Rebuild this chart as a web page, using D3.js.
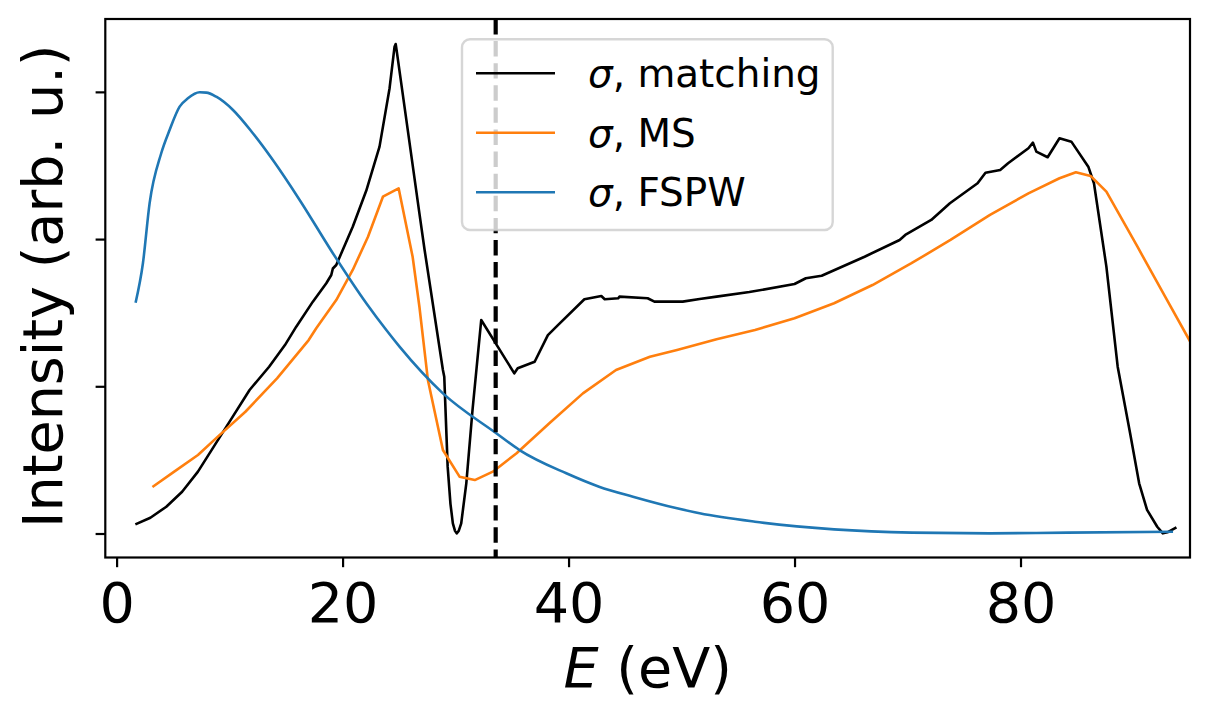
<!DOCTYPE html>
<html>
<head>
<meta charset="utf-8">
<script src="https://cdn.jsdelivr.net/npm/d3@7"></script>
<style>
  body { margin: 0; background: #fff; }
  svg { display: block; font-family: "DejaVu Sans", sans-serif; }
</style>
</head>
<body>
<div id="chart"></div>
<script>
// values (y in arbitrary units, one unit per y tick)
const matchingE = [1.66, 2.99, 4.4, 5.8, 7.2, 8.6, 10.0, 11.77, 13.5, 14.9, 15.9, 17.37, 18.56, 19.0, 19.14, 19.44,
  20.9, 22.1, 23.27, 24.16, 24.6, 24.7, 24.8, 26.8, 27.26, 28.88, 29.0, 29.3, 29.55, 29.76, 29.95, 30.1, 30.28, 30.5, 30.95, 31.5, 32.27,
  35.2, 35.5, 37.0, 38.17, 39.06, 41.4, 42.9, 43.2, 44.4, 44.5, 47.0, 47.6, 50.1, 51.6, 53.1, 56.0, 60.0, 61.0, 62.4,
  66.2, 69.3, 69.8, 72.1, 73.75, 76.2, 76.9, 78.2, 78.9, 80.7, 81.1, 81.4, 82.4, 83.45, 84.5, 86.0, 86.5, 87.6, 88.6,
  89.7, 90.5, 91.2, 92.1, 92.6, 93.0, 93.8]
const matchingI = [0.062, 0.107, 0.182, 0.284, 0.42, 0.59, 0.76, 0.975, 1.133, 1.28, 1.405, 1.575, 1.70, 1.756, 1.80, 1.824,
  2.084, 2.33, 2.628, 3.025, 3.307, 3.325, 3.273, 2.175, 1.926, 1.111, 1.065, 0.454, 0.2, 0.069, 0.018, 0.001, 0.018, 0.069, 0.341, 0.839, 1.45,
  1.088, 1.122, 1.167, 1.348, 1.416, 1.591, 1.613, 1.591, 1.598, 1.609, 1.598, 1.575, 1.575, 1.593, 1.609, 1.64, 1.695, 1.734, 1.751,
  1.88, 1.994, 2.028, 2.13, 2.243, 2.379, 2.451, 2.469, 2.515, 2.617, 2.655, 2.594, 2.556, 2.685, 2.662, 2.492, 2.379, 1.813, 1.133,
  0.681, 0.341, 0.16, 0.046, 0.001, 0.008, 0.042]

const msE = [3.17, 5.1, 7.2, 8.96, 11.4, 14.2, 17.0, 17.67, 19.44, 20.9, 22.25, 23.57, 24.96, 26.2, 26.8, 27.55, 28.88,
  30.35, 31.7, 33.3, 35.4, 38.3, 41.27, 44.2, 47.2, 49.6, 53.1, 56.5, 60.0, 63.5, 66.9, 70.35, 73.8, 77.3, 80.7, 83.45,
  84.9, 86.2, 87.6, 90.35, 92.8, 95.1]
const msI = [0.316, 0.42, 0.533, 0.658, 0.827, 1.054, 1.314, 1.394, 1.586, 1.79, 2.016, 2.288, 2.345, 1.88, 1.54, 1.043, 0.567,
  0.386, 0.363, 0.42, 0.545, 0.749, 0.952, 1.111, 1.201, 1.247, 1.319, 1.382, 1.462, 1.564, 1.688, 1.836, 1.994, 2.164, 2.311, 2.413,
  2.454, 2.429, 2.322, 1.948, 1.609, 1.292]

const fspwE = [1.68, 2.33, 2.92, 3.95, 4.69, 5.58, 6.31, 7.35, 7.94, 8.82, 10.3, 12.06, 13.83, 16.2, 19.14, 22.1, 23.87,
  25.04, 28.88, 33.6, 35.66, 39.8, 42.7, 45.7, 49.6, 51.6, 56.5, 63.5, 70.4, 77.3, 84.2, 93.5]
const fspwI = [1.568, 1.836, 2.243, 2.583, 2.741, 2.90, 2.956, 2.997, 2.995, 2.967, 2.877, 2.719, 2.537, 2.266, 1.904, 1.564, 1.382,
  1.269, 0.952, 0.681, 0.567, 0.409, 0.318, 0.25, 0.171, 0.137, 0.080, 0.028, 0.006, 0.001, 0.006, 0.012]

const thresholdE = 33.55
const xTicks = [0, 20, 40, 60, 80]
const yTicks = [0, 1, 2, 3]
const seriesNames = ["matching", "MS", "FSPW"]
const seriesColors = ["#000000", "#ff7f0e", "#1f77b4"]

const W = 1209, H = 717
const margin = { top: 19, right: 19, bottom: 159.5, left: 105.3 }
const width = W - margin.left - margin.right
const height = H - margin.top - margin.bottom

const svg = d3.select("#chart").append("svg")
  .attr("width", W)
  .attr("height", H)

const g = svg.append("g").attr("transform", `translate(${margin.left},${margin.top})`)

const x = d3.scaleLinear().domain([-1.0, 95.0]).range([0, width])
const y = d3.scaleLinear().domain([-0.163, 3.495]).range([height, 0])

g.append("clipPath").attr("id", "plot-clip")
  .append("rect").attr("width", width).attr("height", height)

const zip = (xs, ys) => xs.map((e, i) => ({ e: e, v: ys[i] }))
const series = [
  { name: seriesNames[0], color: seriesColors[0], data: zip(matchingE, matchingI), curve: d3.curveLinear },
  { name: seriesNames[1], color: seriesColors[1], data: zip(msE, msI), curve: d3.curveLinear },
  { name: seriesNames[2], color: seriesColors[2], data: zip(fspwE, fspwI), curve: d3.curveMonotoneX }
]

const plot = g.append("g").attr("clip-path", "url(#plot-clip)")

series.forEach((s) => {
  const line = d3.line().x((d) => x(d.e)).y((d) => y(d.v)).curve(s.curve)
  plot.append("path")
    .datum(s.data)
    .attr("fill", "none")
    .attr("stroke", s.color)
    .attr("stroke-width", 2.6)
    .attr("stroke-linejoin", "round")
    .attr("d", line)
})

plot.append("line")
  .attr("x1", x(thresholdE)).attr("x2", x(thresholdE))
  .attr("y1", 0).attr("y2", height)
  .attr("stroke", "#000")
  .attr("stroke-width", 4.2)
  .attr("stroke-dasharray", "15.4,6.7")

// axes
const xAxis = g.append("g")
  .attr("transform", `translate(0,${height})`)
  .call(d3.axisBottom(x).tickValues(xTicks).tickSize(9.7).tickFormat(d3.format("d")))
xAxis.select(".domain").remove()
xAxis.selectAll(".tick line").attr("stroke-width", 2.2)
xAxis.selectAll(".tick text")
  .attr("y", 64.2).attr("dy", null)
  .attr("font-size", 55.6).attr("font-family", "DejaVu Sans").attr("fill", "#000")

const yAxis = g.append("g")
  .call(d3.axisLeft(y).tickValues(yTicks).tickSize(9.7).tickFormat(""))
yAxis.select(".domain").remove()
yAxis.selectAll(".tick line").attr("stroke-width", 2.2)

g.append("rect")
  .attr("width", width).attr("height", height)
  .attr("fill", "none").attr("stroke", "#000").attr("stroke-width", 2.2)

// axis labels
const xl = svg.append("text")
  .attr("x", margin.left + width / 2).attr("y", 686.7)
  .attr("text-anchor", "middle").attr("font-size", 55.6)
xl.append("tspan").attr("font-style", "italic").text("E")
xl.append("tspan").text(" (eV)")

svg.append("text")
  .attr("transform", `translate(61.7,${margin.top + height / 2 - 2}) rotate(-90)`)
  .attr("text-anchor", "middle").attr("font-size", 55.6)
  .text("Intensity (arb. u.)")

// legend
const legend = svg.append("g").attr("transform", "translate(462,39.3)")
legend.append("rect")
  .attr("width", 370.7).attr("height", 190.7).attr("rx", 8).attr("ry", 8)
  .attr("fill", "#fff").attr("fill-opacity", 0.8)
  .attr("stroke", "#cccccc").attr("stroke-opacity", 0.8).attr("stroke-width", 2.4)

series.forEach((s, i) => {
  const ry = 34 + i * 59.5
  legend.append("line")
    .attr("x1", 14).attr("x2", 93).attr("y1", ry).attr("y2", ry)
    .attr("stroke", s.color).attr("stroke-width", 2.6)
  const t = legend.append("text")
    .attr("x", 126).attr("y", ry + 14)
    .attr("font-size", 38.9)
  t.append("tspan").attr("font-style", "italic").text("σ")
  t.append("tspan").text(", " + s.name)
})
</script>
</body>
</html>
